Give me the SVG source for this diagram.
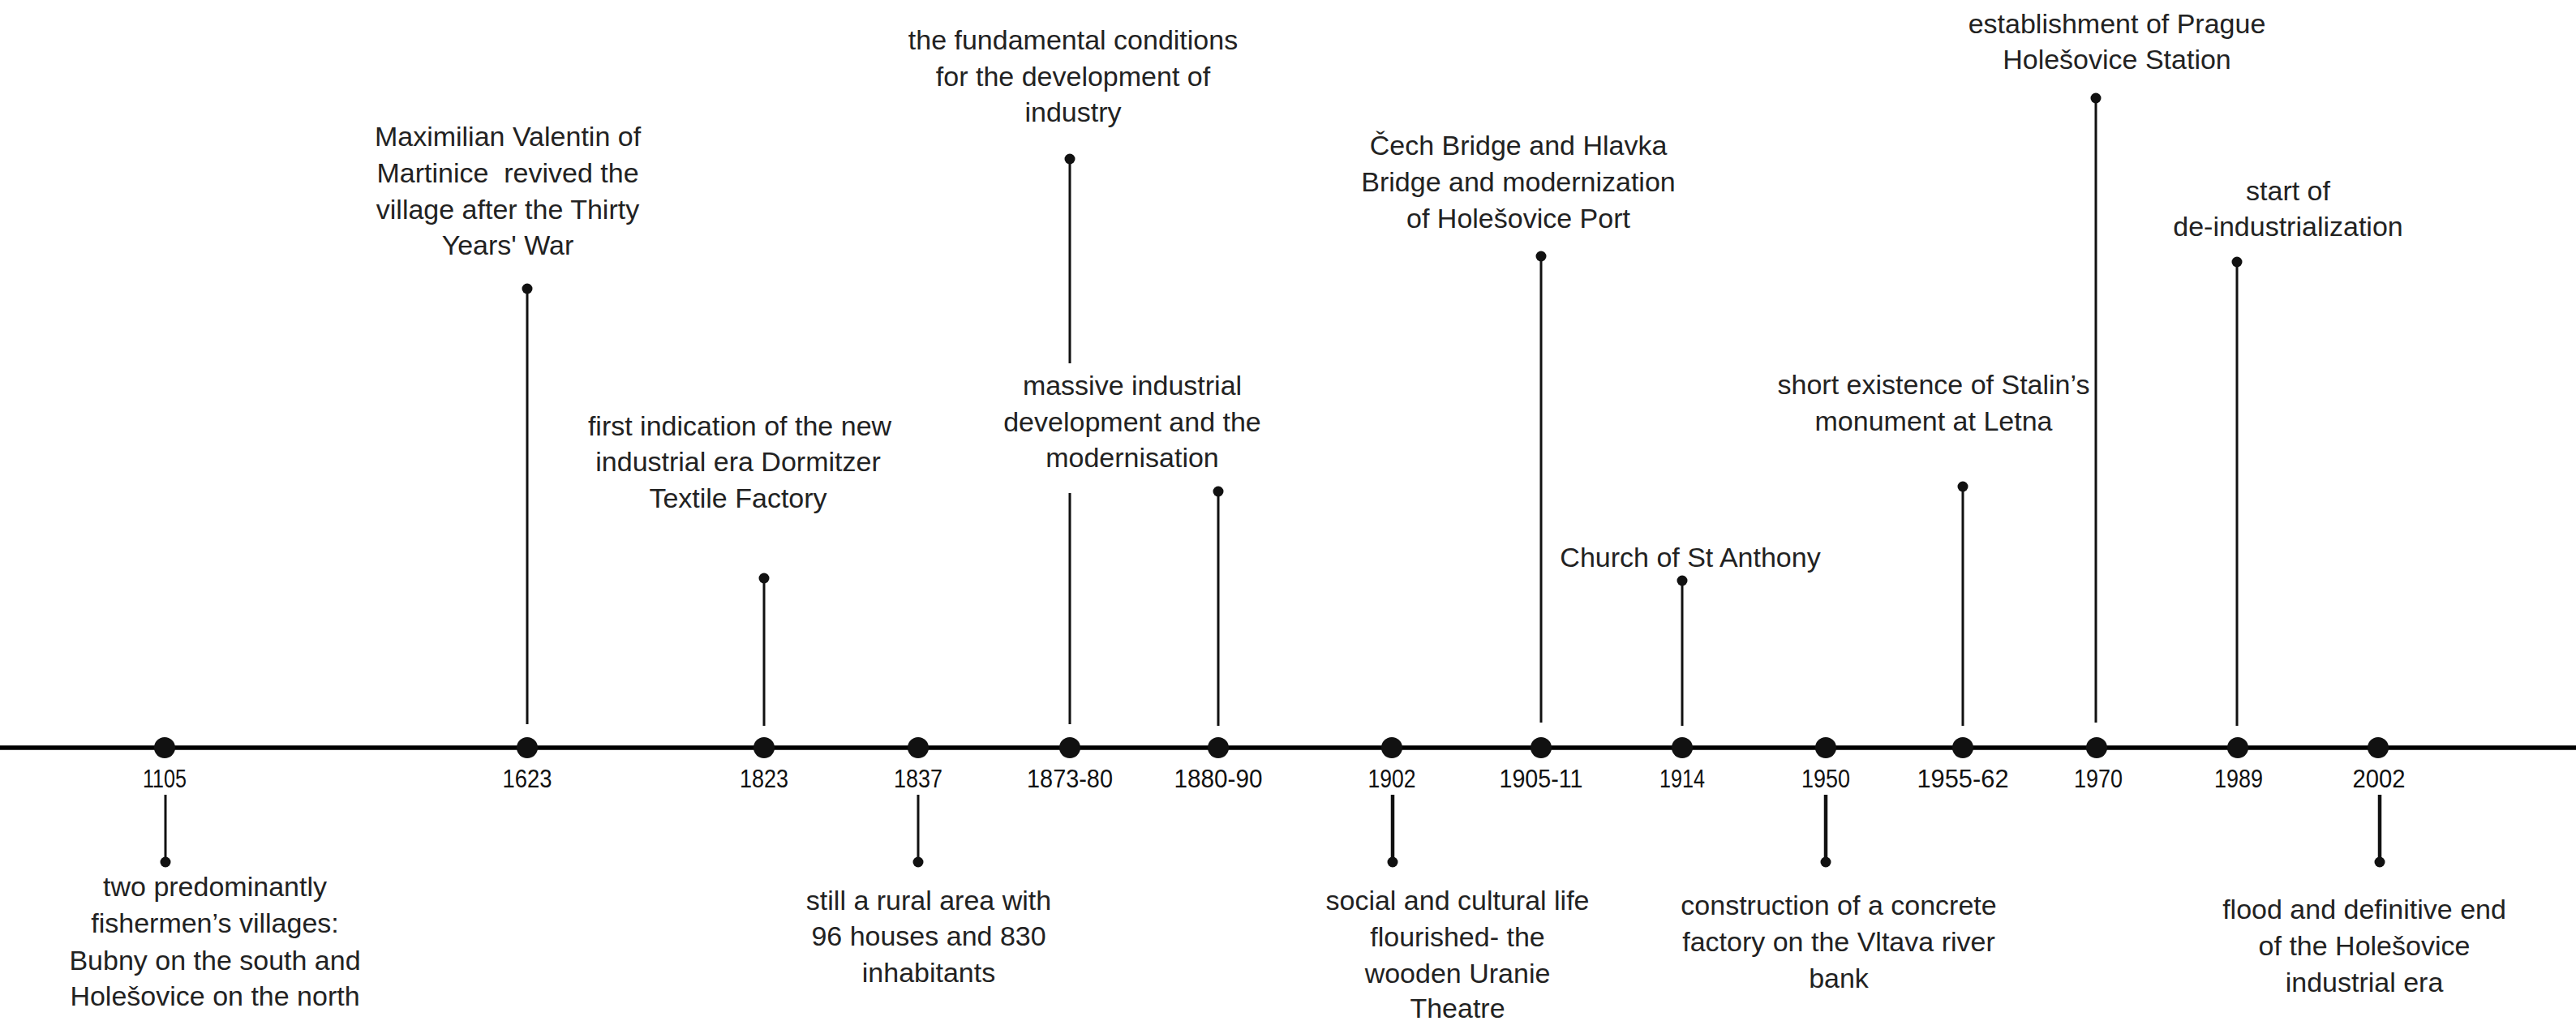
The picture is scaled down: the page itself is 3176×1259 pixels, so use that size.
<svg xmlns="http://www.w3.org/2000/svg" width="3176" height="1259" viewBox="0 0 3176 1259">
<style>
.bg{fill:#ffffff}
.axis{stroke:#000;stroke-width:5.5;fill:none}
.stem{stroke:#111;stroke-width:3;fill:none}
.stemb{stroke:#111;stroke-width:4.5;fill:none}
.dot{fill:#111}
.year{font-family:"Liberation Sans",Arial,sans-serif;font-size:32px;fill:#111;text-anchor:middle}
.desc{font-family:"Liberation Sans",Arial,sans-serif;font-size:34px;fill:#222;text-anchor:middle}
</style>
<rect class="bg" x="0" y="0" width="3176" height="1259"/>
<g id="connectors">
  <line class="axis" x1="0" y1="922" x2="3176" y2="922"/>
  <line class="stem" x1="650" y1="356" x2="650" y2="893"/>
  <line class="stem" x1="942" y1="713" x2="942" y2="895"/>
  <line class="stem" x1="1319" y1="196" x2="1319" y2="448"/>
  <line class="stem" x1="1319" y1="608" x2="1319" y2="893"/>
  <line class="stem" x1="1502" y1="606" x2="1502" y2="895"/>
  <line class="stem" x1="1900" y1="316" x2="1900" y2="891"/>
  <line class="stem" x1="2074" y1="716" x2="2074" y2="895"/>
  <line class="stem" x1="2420" y1="600" x2="2420" y2="895"/>
  <line class="stem" x1="2584" y1="121" x2="2584" y2="891"/>
  <line class="stem" x1="2758" y1="323" x2="2758" y2="895"/>
  <line class="stem" x1="204" y1="980" x2="204" y2="1063"/>
  <line class="stem" x1="1132" y1="980" x2="1132" y2="1063"/>
  <line class="stemb" x1="1717" y1="980" x2="1717" y2="1063"/>
  <line class="stemb" x1="2251" y1="980" x2="2251" y2="1063"/>
  <line class="stemb" x1="2934" y1="980" x2="2934" y2="1063"/>
</g>
<g id="e1105">
  <circle class="dot" cx="203" cy="922" r="13"/>
  <text class="year" x="203" y="971" textLength="54" lengthAdjust="spacingAndGlyphs">1105</text>
  <circle class="dot" cx="204" cy="1063" r="6.5"/>
  <text class="desc" x="265" y="1105">two predominantly</text>
  <text class="desc" x="265" y="1150">fishermen’s villages:</text>
  <text class="desc" x="265" y="1196">Bubny on the south and</text>
  <text class="desc" x="265" y="1240">Holešovice on the north</text>
</g>
<g id="e1623">
  <circle class="dot" cx="650" cy="922" r="13"/>
  <text class="year" x="650" y="971" textLength="61" lengthAdjust="spacingAndGlyphs">1623</text>
  <circle class="dot" cx="650" cy="356" r="6.5"/>
  <text class="desc" x="626" y="180">Maximilian Valentin of</text>
  <text class="desc" x="626" y="225">Martinice&#160; revived the</text>
  <text class="desc" x="626" y="270">village after the Thirty</text>
  <text class="desc" x="626" y="314">Years' War</text>
</g>
<g id="e1823">
  <circle class="dot" cx="942" cy="922" r="13"/>
  <text class="year" x="942" y="971" textLength="60" lengthAdjust="spacingAndGlyphs">1823</text>
  <circle class="dot" cx="942" cy="713" r="6.5"/>
  <text class="desc" x="912" y="537">first indication of the new</text>
  <text class="desc" x="910" y="581">industrial era Dormitzer</text>
  <text class="desc" x="910" y="626">Textile Factory</text>
</g>
<g id="e1837">
  <circle class="dot" cx="1132" cy="922" r="13"/>
  <text class="year" x="1132" y="971" textLength="60" lengthAdjust="spacingAndGlyphs">1837</text>
  <circle class="dot" cx="1132" cy="1063" r="6.5"/>
  <text class="desc" x="1145" y="1122">still a rural area with</text>
  <text class="desc" x="1145" y="1166">96 houses and 830</text>
  <text class="desc" x="1145" y="1211">inhabitants</text>
</g>
<g id="e1873-80">
  <circle class="dot" cx="1319" cy="922" r="13"/>
  <text class="year" x="1319" y="971" textLength="106" lengthAdjust="spacingAndGlyphs">1873-80</text>
  <circle class="dot" cx="1319" cy="196" r="6.5"/>
  <text class="desc" x="1323" y="61">the fundamental conditions</text>
  <text class="desc" x="1323" y="106">for the development of</text>
  <text class="desc" x="1323" y="150">industry</text>
  <text class="desc" x="1396" y="487">massive industrial</text>
  <text class="desc" x="1396" y="532">development and the</text>
  <text class="desc" x="1396" y="576">modernisation</text>
</g>
<g id="e1880-90">
  <circle class="dot" cx="1502" cy="922" r="13"/>
  <text class="year" x="1502" y="971" textLength="109" lengthAdjust="spacingAndGlyphs">1880-90</text>
  <circle class="dot" cx="1502" cy="606" r="6.5"/>
</g>
<g id="e1902">
  <circle class="dot" cx="1716" cy="922" r="13"/>
  <text class="year" x="1716" y="971" textLength="59" lengthAdjust="spacingAndGlyphs">1902</text>
  <circle class="dot" cx="1717" cy="1063" r="6.5"/>
  <text class="desc" x="1797" y="1122">social and cultural life</text>
  <text class="desc" x="1797" y="1167">flourished- the</text>
  <text class="desc" x="1797" y="1212">wooden Uranie</text>
  <text class="desc" x="1797" y="1255">Theatre</text>
</g>
<g id="e1905-11">
  <circle class="dot" cx="1900" cy="922" r="13"/>
  <text class="year" x="1900" y="971" textLength="103" lengthAdjust="spacingAndGlyphs">1905-11</text>
  <circle class="dot" cx="1900" cy="316" r="6.5"/>
  <text class="desc" x="1872" y="191">Čech Bridge and Hlavka</text>
  <text class="desc" x="1872" y="236">Bridge and modernization</text>
  <text class="desc" x="1872" y="281">of Holešovice Port</text>
</g>
<g id="e1914">
  <circle class="dot" cx="2074" cy="922" r="13"/>
  <text class="year" x="2074" y="971" textLength="56" lengthAdjust="spacingAndGlyphs">1914</text>
  <circle class="dot" cx="2074" cy="716" r="6.5"/>
  <text class="desc" x="2084" y="699">Church of St Anthony</text>
</g>
<g id="e1950">
  <circle class="dot" cx="2251" cy="922" r="13"/>
  <text class="year" x="2251" y="971" textLength="60" lengthAdjust="spacingAndGlyphs">1950</text>
  <circle class="dot" cx="2251" cy="1063" r="6.5"/>
  <text class="desc" x="2267" y="1128">construction of a concrete</text>
  <text class="desc" x="2267" y="1173">factory on the Vltava river</text>
  <text class="desc" x="2267" y="1218">bank</text>
</g>
<g id="e1955-62">
  <circle class="dot" cx="2420" cy="922" r="13"/>
  <text class="year" x="2420" y="971" textLength="113" lengthAdjust="spacingAndGlyphs">1955-62</text>
  <circle class="dot" cx="2420" cy="600" r="6.5"/>
  <text class="desc" x="2384" y="486">short existence of Stalin’s</text>
  <text class="desc" x="2384" y="531">monument at Letna</text>
</g>
<g id="e1970">
  <circle class="dot" cx="2585" cy="922" r="13"/>
  <text class="year" x="2587" y="971" textLength="60" lengthAdjust="spacingAndGlyphs">1970</text>
  <circle class="dot" cx="2584" cy="121" r="6.5"/>
  <text class="desc" x="2610" y="41">establishment of Prague</text>
  <text class="desc" x="2610" y="85">Holešovice Station</text>
</g>
<g id="e1989">
  <circle class="dot" cx="2759" cy="922" r="13"/>
  <text class="year" x="2760" y="971" textLength="60" lengthAdjust="spacingAndGlyphs">1989</text>
  <circle class="dot" cx="2758" cy="323" r="6.5"/>
  <text class="desc" x="2821" y="247">start of</text>
  <text class="desc" x="2821" y="291">de-industrialization</text>
</g>
<g id="e2002">
  <circle class="dot" cx="2932" cy="922" r="13"/>
  <text class="year" x="2933" y="971" textLength="65" lengthAdjust="spacingAndGlyphs">2002</text>
  <circle class="dot" cx="2934" cy="1063" r="6.5"/>
  <text class="desc" x="2915" y="1133">flood and definitive end</text>
  <text class="desc" x="2915" y="1178">of the Holešovice</text>
  <text class="desc" x="2915" y="1223">industrial era</text>
</g>
</svg>
